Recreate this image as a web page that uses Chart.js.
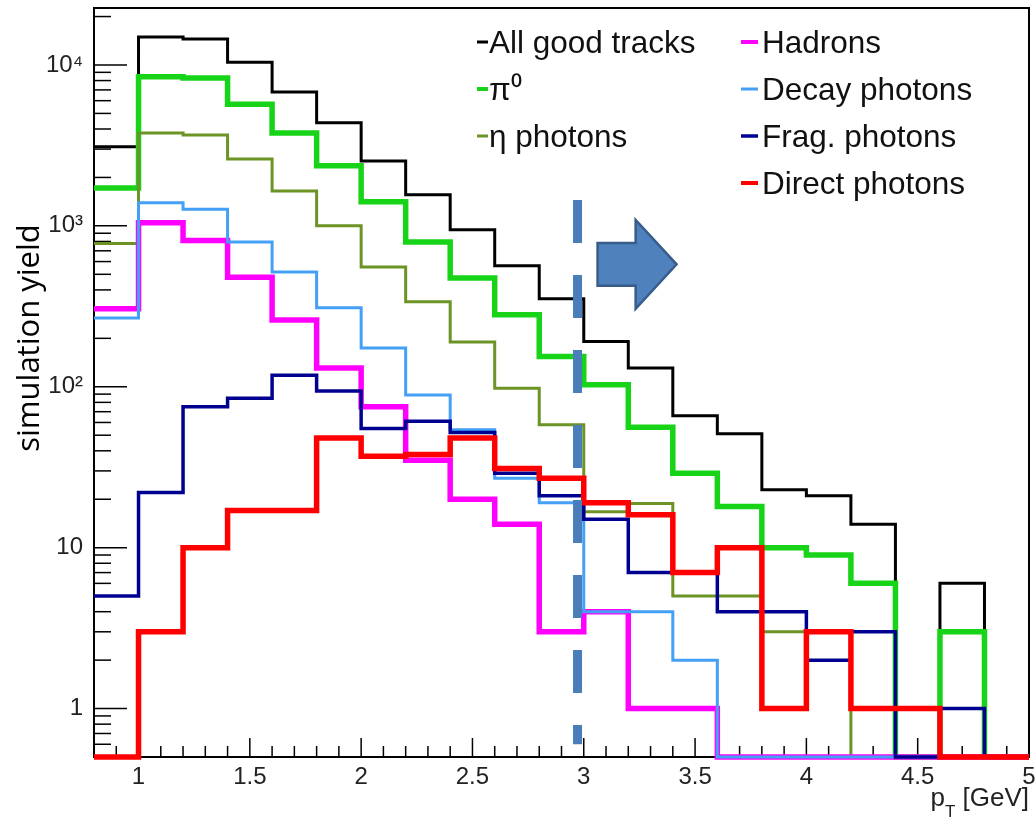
<!DOCTYPE html>
<html>
<head>
<meta charset="utf-8">
<script src="https://cdn.jsdelivr.net/npm/chart.js@4.4.1/dist/chart.umd.min.js"></script>
<style>
  html, body { margin: 0; padding: 0; background: #fff; }
</style>
</head>
<body>
<canvas id="myChart" width="1036" height="825"></canvas>
<script>
// pT bin edges, 0.2 GeV wide
var binEdges = [0.8, 1.0, 1.2, 1.4, 1.6, 1.8, 2.0, 2.2, 2.4, 2.6, 2.8, 3.0, 3.2, 3.4, 3.6, 3.8, 4.0, 4.2, 4.4, 4.6, 4.8, 5.0];

// simulation yield per bin (0 = empty bin)
var allTracks   = [3100, 14900, 14500, 10400, 6800, 4370, 2530, 1560, 945, 565, 353, 191, 131, 66, 51, 22.9, 21, 14, 0, 6, 0];
var pi0         = [1720, 8440, 8300, 5700, 3780, 2360, 1410, 794, 475, 280, 154, 103, 56, 29, 18, 10, 9, 6, 0, 3, 0];
var etaPhotons  = [776, 3780, 3670, 2600, 1650, 1000, 556, 338, 190, 98, 58, 16.7, 18.8, 5, 5, 3, 3, 0, 0, 0, 0];
var hadrons     = [305, 1045, 810, 480, 260, 131, 75, 35, 20, 14, 3, 4, 1, 1, 0, 0, 0, 0, 0, 0, 0];
var decayPhot   = [268, 1390, 1270, 794, 517, 310, 174, 89, 54, 27, 19, 4, 4, 2, 0, 0, 0, 0, 0, 0, 0];
var fragPhot    = [5, 22, 75, 85, 118, 94, 55, 61, 52, 29, 21, 15, 7, 7, 4, 4, 2, 3, 0, 1, 0];
var directPhot  = [0, 3, 10, 17, 17, 48, 37, 38, 48, 31, 27, 19, 16, 7, 10, 1, 3, 1, 1, 0, 0];

// pT cut marker
var cutX = [2.972, 2.972];
var cutY = [1450, 0.6];

// axis ticks
var xMajor = [1, 1.5, 2, 2.5, 3, 3.5, 4, 4.5, 5];
var xTickText = ['1', '1.5', '2', '2.5', '3', '3.5', '4', '4.5', '5'];
var yMajor = [1, 10, 100, 1000, 10000];
var yTickText = ['1', '10', '10\u00B2', '10\u00B3', '10\u2074'];

var yMin = 0.5, yMax = 22600;

function histPoints(vals) {
  var pts = [];
  for (var i = 0; i < vals.length; i++) {
    pts.push({x: binEdges[i], y: vals[i] > 0 ? vals[i] : yMin});
  }
  var last = vals[vals.length - 1];
  pts.push({x: binEdges[binEdges.length - 1], y: last > 0 ? last : yMin});
  return pts;
}

function histSet(label, vals, color, width, order) {
  return {
    label: label,
    data: histPoints(vals),
    borderColor: color,
    borderWidth: width,
    stepped: 'before',
    pointRadius: 0,
    fill: false,
    clip: false,
    order: order,
    borderJoinStyle: 'miter',
    inLegend: true
  };
}

function line(ctx, x1, y1, x2, y2) {
  ctx.beginPath(); ctx.moveTo(x1, y1); ctx.lineTo(x2, y2); ctx.stroke();
}

var frameTicks = {
  id: 'frameTicks',
  beforeDatasetsDraw: function(chart) {
    var ctx = chart.ctx, a = chart.chartArea, xs = chart.scales.x, ys = chart.scales.y;
    ctx.save();
    ctx.strokeStyle = '#000';
    ctx.lineWidth = 1.5;
    for (var d = -1; d <= 4; d++) {
      for (var m = 1; m <= 9; m++) {
        var v = m * Math.pow(10, d);
        if (v <= ys.min || v >= ys.max) continue;
        var py = ys.getPixelForValue(v);
        line(ctx, a.left, py, a.left + (m === 1 ? 33 : 17), py);
      }
    }
    for (var k = 9; k < 50; k++) {
      var px = xs.getPixelForValue(k / 10);
      line(ctx, px, a.bottom, px, a.bottom - (k % 5 === 0 ? 19 : 11));
    }
    ctx.lineWidth = 2;
    ctx.strokeRect(a.left, a.top, a.right - a.left, a.bottom - a.top);
    ctx.restore();
  }
};

var extras = {
  id: 'extras',
  afterDraw: function(chart) {
    var ctx = chart.ctx, xs = chart.scales.x, ys = chart.scales.y;
    ctx.save();

    // arrow pointing to higher pT
    var arrow = [[3.062, 783], [3.233, 783], [3.233, 1089], [3.417, 577], [3.233, 305], [3.233, 424], [3.062, 424]];
    ctx.beginPath();
    arrow.forEach(function(p, i) {
      var px = xs.getPixelForValue(p[0]), py = ys.getPixelForValue(p[1]);
      if (i === 0) ctx.moveTo(px, py); else ctx.lineTo(px, py);
    });
    ctx.closePath();
    ctx.fillStyle = '#4f81bd';
    ctx.fill();
    ctx.lineWidth = 2.5;
    ctx.strokeStyle = '#385d8a';
    ctx.stroke();

    // legend
    var sets = chart.data.datasets.filter(function(d) { return d.inLegend; });
    ctx.font = '31.5px "Liberation Sans", Arial, sans-serif';
    ctx.fillStyle = '#111';
    ctx.textBaseline = 'alphabetic';
    ctx.textAlign = 'left';
    sets.forEach(function(d, i) {
      var col = i < 3 ? 0 : 1;
      var row = col ? i - 3 : i;
      var mx = col ? 741 : 477, mw = col ? 17 : 11, tx = col ? 762 : 489;
      var by = 53 + 47 * row;
      ctx.strokeStyle = d.borderColor;
      ctx.lineWidth = Math.min(d.borderWidth, 4);
      line(ctx, mx, by - 11, mx + mw, by - 11);
      ctx.fillText(d.label, tx, by);
    });

    // y title
    ctx.save();
    ctx.translate(30, 338);
    ctx.rotate(-Math.PI / 2);
    ctx.font = '31px "Open Sans", sans-serif';
    ctx.fillStyle = '#000';
    ctx.textAlign = 'center';
    ctx.textBaseline = 'middle';
    ctx.fillText('simulation yield', 0, 0);
    ctx.restore();

    // x title p_T [GeV]
    var big = '26px "Liberation Sans", Arial, sans-serif';
    var small = '17px "Liberation Sans", Arial, sans-serif';
    ctx.fillStyle = '#222';
    ctx.font = big;
    var w1 = ctx.measureText('p').width, w3 = ctx.measureText(' [GeV]').width;
    ctx.font = small;
    var w2 = ctx.measureText('T').width;
    var x0 = 1029 - (w1 + w2 + w3);
    ctx.font = big;
    ctx.fillText('p', x0, 806);
    ctx.font = small;
    ctx.fillText('T', x0 + w1, 817);
    ctx.font = big;
    ctx.fillText(' [GeV]', x0 + w1 + w2, 806);

    ctx.restore();
  }
};

var ctx = document.getElementById('myChart').getContext('2d');
var myChart = new Chart(ctx, {
  type: 'line',
  data: {
    datasets: [
      histSet('All good tracks', allTracks, '#000000', 3, 7),
      histSet('\u03C0\u2070', pi0, '#18d418', 5.5, 6),
      histSet('\u03B7 photons', etaPhotons, '#6b9424', 3, 5),
      histSet('Hadrons', hadrons, '#ff00ff', 5.5, 4),
      histSet('Decay photons', decayPhot, '#43a0f5', 3, 3),
      histSet('Frag. photons', fragPhot, '#000090', 3.5, 2),
      histSet('Direct photons', directPhot, '#ff0000', 5.5, 1),
      {
        label: 'cut',
        data: [{x: cutX[0], y: cutY[0]}, {x: cutX[1], y: cutY[1]}],
        borderColor: '#4a7ebb',
        borderWidth: 9,
        borderDash: [43, 32],
        borderCapStyle: 'butt',
        pointRadius: 0,
        fill: false,
        clip: false,
        order: 0
      }
    ]
  },
  options: {
    responsive: false,
    animation: false,
    events: [],
    layout: { padding: { left: 0, top: 8, right: 7, bottom: 0 } },
    plugins: { legend: { display: false }, tooltip: { enabled: false }, title: { display: false } },
    scales: {
      x: {
        type: 'linear',
        min: 0.8,
        max: 5,
        grid: { display: false, drawTicks: false },
        border: { display: false },
        afterBuildTicks: function(scale) {
          scale.ticks = xMajor.map(function(v) { return {value: v}; });
        },
        afterFit: function(scale) {
          scale.height = 68;
          scale.paddingLeft = 0;
          scale.paddingRight = 0;
        },
        ticks: {
          autoSkip: false,
          maxRotation: 0,
          padding: 6,
          color: '#222',
          font: { family: '"Liberation Sans", Arial, sans-serif', size: 24 },
          callback: function(value, index) { return xTickText[index]; }
        }
      },
      y: {
        type: 'logarithmic',
        min: yMin,
        max: yMax,
        grid: { display: false, drawTicks: false },
        border: { display: false },
        afterBuildTicks: function(scale) {
          scale.ticks = yMajor.map(function(v) { return {value: v}; });
        },
        afterFit: function(scale) {
          scale.width = 94;
          scale.paddingTop = 0;
          scale.paddingBottom = 0;
        },
        ticks: {
          autoSkip: false,
          padding: 11,
          color: '#222',
          font: { family: '"Liberation Sans", Arial, sans-serif', size: 24 },
          callback: function(value, index) { return yTickText[index]; }
        }
      }
    }
  },
  plugins: [frameTicks, extras]
});
</script>
</body>
</html>
